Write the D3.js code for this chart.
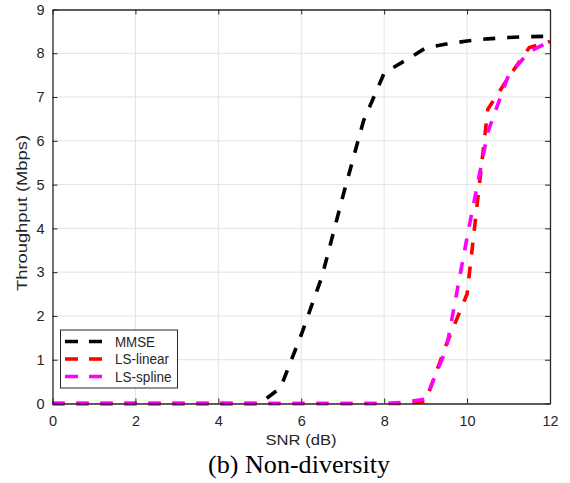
<!DOCTYPE html>
<html>
<head>
<meta charset="utf-8">
<script src="https://cdn.jsdelivr.net/npm/d3@7"></script>
<style>
html,body{margin:0;padding:0;background:#fff;}
svg{display:block;}
</style>
</head>
<body>
<svg id="chart" width="570" height="483"></svg>
<script>
const snr = [0,0.5,1,1.5,2,2.5,3,3.5,4,4.5,5,5.5,6,6.5,7,7.5,8,8.5,9,9.5,10,10.5,11,11.5,12];
const mmse     = [0,0,0,0,0,0,0,0,0,0,0,0.36,1.57,2.9,4.72,6.45,7.55,7.83,8.12,8.21,8.28,8.33,8.36,8.38,8.39];
const lsLinear = [0,0,0,0,0,0,0,0,0,0,0,0,0,0,0,0,0,0,0.05,1.35,2.5,6.72,7.45,8.13,8.27];
const lsSpline = [0,0,0,0,0,0,0,0,0,0,0,0,0,0,0,0,0,0.03,0.1,1.25,3.8,6.2,7.5,8.03,8.28];
const seriesNames = ["MMSE","LS-linear","LS-spline"];
const seriesColors = ["#000000","#ff0000","#ff00ff"];
const xTicks = [0,2,4,6,8,10,12];
const yTicks = [0,1,2,3,4,5,6,7,8,9];
const xLabel = "SNR (dB)";
const yLabel = "Throughput (Mbps)";
const caption = "(b) Non-diversity";

const svg = d3.select("#chart");
const L = 52.5, R = 550, T = 9.5, B = 403.5;
const x = d3.scaleLinear().domain([0,12]).range([L,R]);
const y = d3.scaleLinear().domain([0,9]).range([B,T]);
const axisColor = "#262626";
const font = "'Liberation Sans', Arial, Helvetica, sans-serif";

// grid
const g = svg.append("g");
g.selectAll(".gx").data(xTicks.slice(1,-1)).enter().append("line")
  .attr("x1",d=>x(d)).attr("x2",d=>x(d)).attr("y1",T).attr("y2",B)
  .attr("stroke","#e3e3e3").attr("stroke-width",1);
g.selectAll(".gy").data(yTicks.slice(1,-1)).enter().append("line")
  .attr("x1",L).attr("x2",R).attr("y1",d=>y(d)).attr("y2",d=>y(d))
  .attr("stroke","#e3e3e3").attr("stroke-width",1);

// series
const data = [mmse, lsLinear, lsSpline];
const line = d3.line().x((d,i)=>x(snr[i])).y(d=>y(d));
data.forEach((s,k)=>{
  svg.append("path").datum(s).attr("d",line)
    .attr("fill","none").attr("stroke",seriesColors[k])
    .attr("stroke-width",3.6).attr("stroke-dasharray","12,12")
    .attr("stroke-linejoin","miter");
});

// axes
const tickLen = 5;
const xAxisB = d3.axisBottom(x).tickValues(xTicks).tickSizeInner(-tickLen).tickSizeOuter(0).tickPadding(12);
const xAxisT = d3.axisTop(x).tickValues(xTicks).tickSizeInner(-tickLen).tickSizeOuter(0).tickFormat("");
const yAxisL = d3.axisLeft(y).tickValues(yTicks).tickSizeInner(-tickLen).tickSizeOuter(0).tickPadding(8);
const yAxisR = d3.axisRight(y).tickValues(yTicks).tickSizeInner(-tickLen).tickSizeOuter(0).tickFormat("");
function style(sel){
  sel.selectAll("path").attr("stroke",axisColor).attr("stroke-width",1.3);
  sel.selectAll("line").attr("stroke",axisColor).attr("stroke-width",1);
  sel.selectAll("text").attr("fill",axisColor).style("font-family",font).style("font-size","14.5px");
}
svg.append("g").attr("transform",`translate(0,${B})`).call(xAxisB).call(style);
svg.append("g").attr("transform",`translate(0,${T})`).call(xAxisT).call(style);
svg.append("g").attr("transform",`translate(${L},0)`).call(yAxisL).call(style);
svg.append("g").attr("transform",`translate(${R},0)`).call(yAxisR).call(style);

// labels
svg.append("text").attr("x",301).attr("y",445).attr("text-anchor","middle")
  .attr("textLength",71).attr("lengthAdjust","spacingAndGlyphs")
  .attr("fill",axisColor).style("font-family",font).style("font-size","15px").text(xLabel);
svg.append("text").attr("transform",`translate(26.5,213) rotate(-90)`).attr("text-anchor","middle")
  .attr("textLength",156).attr("lengthAdjust","spacingAndGlyphs")
  .attr("fill",axisColor).style("font-family",font).style("font-size","15px").text(yLabel);
svg.append("text").attr("x",299).attr("y",472.5).attr("text-anchor","middle")
  .attr("textLength",182).attr("lengthAdjust","spacingAndGlyphs")
  .attr("fill","#000").style("font-family","'Liberation Serif','Times New Roman',serif").style("font-size","25.5px").text(caption);

// legend
const legendWidths = [40,54,56.5];
const lg = svg.append("g");
lg.append("rect").attr("x",60.5).attr("y",330).attr("width",117).attr("height",58)
  .attr("fill","#fff").attr("stroke",axisColor).attr("stroke-width",1);
seriesNames.forEach((n,k)=>{
  const yy = 341.5 + k*17.5;
  lg.append("line").attr("x1",65).attr("x2",102).attr("y1",yy).attr("y2",yy)
    .attr("stroke",seriesColors[k]).attr("stroke-width",3.6).attr("stroke-dasharray","13,11");
  lg.append("text").attr("x",115).attr("y",yy+5).attr("fill",axisColor)
    .attr("textLength",legendWidths[k]).attr("lengthAdjust","spacingAndGlyphs")
    .style("font-family",font).style("font-size","14px").text(n);
});
</script>
</body>
</html>
